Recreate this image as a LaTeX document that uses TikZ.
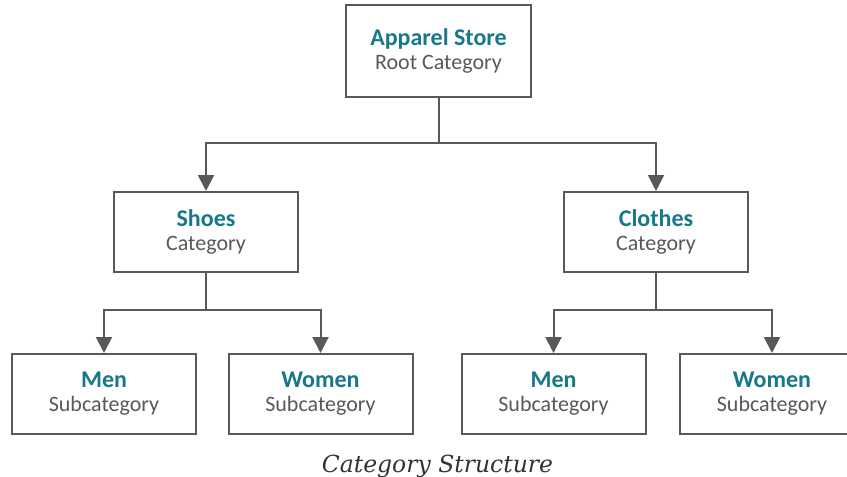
\documentclass[tikz,border=0pt]{standalone}
\usepackage{fontspec}
\setmainfont{Carlito}
\newfontfamily\capfont{DejaVu Serif}
\usetikzlibrary{arrows.meta,positioning}
\definecolor{boxline}{HTML}{595959}
\definecolor{titleteal}{HTML}{17788A}
\definecolor{subgrey}{HTML}{595959}
\definecolor{capgrey}{HTML}{333333}

\begin{document}
\begin{tikzpicture}[
    x=1pt, y=1pt,
    box/.style={draw=boxline, line width=2pt, fill=white, align=center,
                minimum width=184pt, minimum height=80pt, inner sep=2pt,
                font=\fontsize{22}{24}\selectfont},
    rootbox/.style={box, minimum width=185pt, minimum height=92pt},
    arr/.style={draw=boxline, line width=2pt,
                -{Triangle[length=16pt, width=16pt]}},
    stem/.style={draw=boxline, line width=2pt},
]
\useasboundingbox (0,0) rectangle (847,-477);
\clip (0,0) rectangle (847,-477);

\newcommand\lbl[2]{{\fontsize{24}{24}\selectfont\bfseries\color{titleteal}#1}\\
                   {\color{subgrey}#2}}

\node[rootbox] (root) at (438.5,-51) {\lbl{Apparel Store}{Root Category}};
\node[box] (shoes) at (206,-232) {\lbl{Shoes}{Category}};
\node[box] (clothes) at (656,-232) {\lbl{Clothes}{Category}};
\node[box] (smen) at (104,-394) {\lbl{Men}{Subcategory}};
\node[box] (swomen) at (320.5,-394) {\lbl{Women}{Subcategory}};
\node[box] (cmen) at (553.5,-394) {\lbl{Men}{Subcategory}};
\node[box] (cwomen) at (772,-394) {\lbl{Women}{Subcategory}};

\coordinate (rj) at (root.south |- 0,-143);
\coordinate (sj) at (shoes.south |- 0,-310);
\coordinate (cj) at (clothes.south |- 0,-310);

\draw[stem] (root.south) -- (rj);
\draw[arr] (rj) -| (shoes.north);
\draw[arr] (rj) -| (clothes.north);

\draw[stem] (shoes.south) -- (sj);
\draw[arr] (sj) -| (smen.north);
\draw[arr] (sj) -| (swomen.north);

\draw[stem] (clothes.south) -- (cj);
\draw[arr] (cj) -| (cmen.north);
\draw[arr] (cj) -| (cwomen.north);

\node[font=\capfont\itshape\fontsize{23.5}{26}\selectfont, text=capgrey,
      anchor=base] (caption) at (437.5,-472) {Category Structure};
\end{tikzpicture}
\end{document}
